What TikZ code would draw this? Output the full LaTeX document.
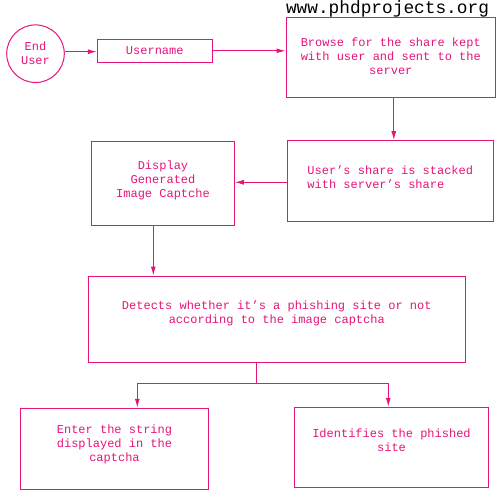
\documentclass[tikz,border=0pt]{standalone}
\usepackage{fontspec}
\setmonofont{Liberation Mono}
\usetikzlibrary{arrows.meta,positioning}
\definecolor{flowpink}{RGB}{230,20,122}

\begin{document}
\begin{tikzpicture}[x=1pt,y=-1pt,line width=1pt,
 box/.style={draw=flowpink,inner sep=0pt},
 boxtext/.style={text=flowpink,align=center,inner sep=0pt,
  font=\ttfamily\fontsize{12}{14}\selectfont},
 arr/.style={draw=flowpink,-{Latex[length=9pt,width=5pt]}},
 line/.style={draw=flowpink}]

  \useasboundingbox (0,0) rectangle (500,500);

  \node[anchor=base,font=\ttfamily\fontsize{17.8}{20}\selectfont] (site)
   at (387.5,13.6) {www.phdprojects.org};

  \node[box,circle,minimum size=57.6,label={[boxtext]center:End\\User}]
   (user) at (35.5,53.7) {};
  \node[box,minimum width=115,minimum height=23,
   label={[boxtext]center:Username}] (uname) at (154.8,50.8) {};
  \node[box,minimum width=209.5,minimum height=80,
   label={[boxtext,yshift=1]center:Browse for the share kept\\with user and
   sent to the\\server}] (browse) at (390.8,57.3) {};
  \node[box,minimum width=206,minimum height=81.3,
   label={[boxtext,yshift=4]center:User’s share is stacked\\with server’s
   share\phantom{~~~~}}] (stack) at (390.3,181.3) {};
  \node[box,minimum width=142.6,minimum height=83.6,
   label={[boxtext,yshift=3]center:Display\\Generated\\Image Captche}]
   (disp) at (163,183.5) {};
  \node[box,minimum width=377,minimum height=86,
   label={[boxtext,yshift=6]center:Detects whether it’s a phishing site or
   not\\according to the image captcha}] (detect) at (276.8,319) {};
  \node[box,minimum width=187.6,minimum height=81,
   label={[boxtext,yshift=4]center:Enter the string\\displayed in the\\captcha}]
   (enter) at (114.5,448.8) {};
  \node[box,minimum width=193.6,minimum height=80,
   label={[boxtext,yshift=7]center:Identifies the phished\\site}]
   (ident) at (391.5,447.3) {};

  % flow
  \draw[arr] (user.east|-0,51.7) -- (uname.west|-0,51.7);
  \draw[arr] (uname.east) -- (uname.east-|browse.west);
  \draw[arr] ([xshift=3]browse.south) -- ([xshift=3]browse.south|-stack.north);
  \draw[arr] (stack.west|-0,182.3) -- (disp.east|-0,182.3);
  \draw[arr] ([xshift=-9.7]disp.south) -- ([xshift=-9.7]disp.south|-detect.north);

  \draw[line] ([xshift=-20.5]detect.south) -- ++(0,20.7) coordinate (fork);
  \draw[arr] (fork) -| ([xshift=22.8]enter.north);
  \draw[arr] (fork) -| ([xshift=-3.2]ident.north);

\end{tikzpicture}
\end{document}
